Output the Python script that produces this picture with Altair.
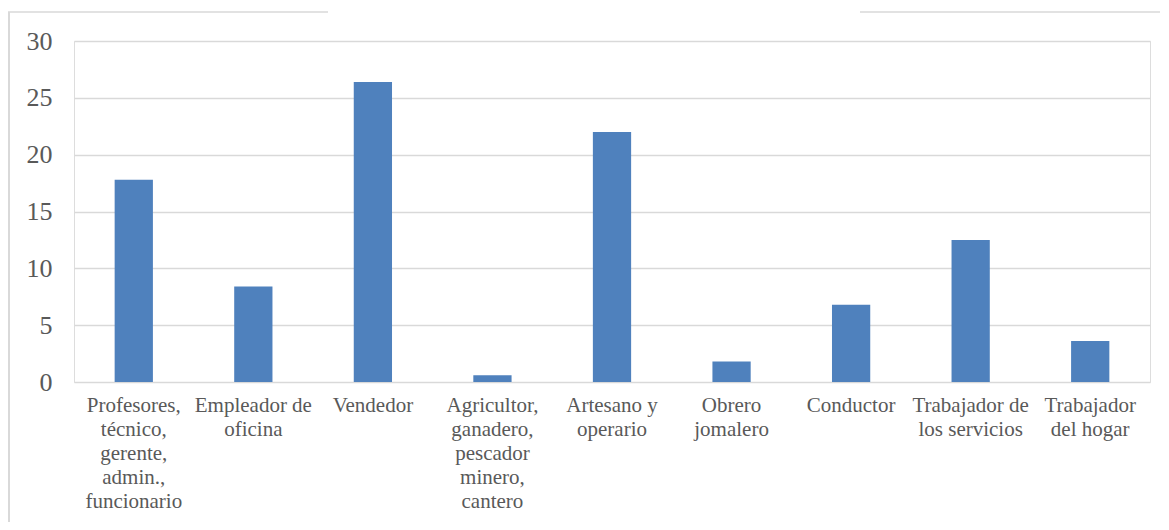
import altair as alt
import pandas as pd

categories = [
    "Profesores,\ntécnico,\ngerente,\nadmin.,\nfuncionario",
    "Empleador de\noficina",
    "Vendedor",
    "Agricultor,\nganadero,\npescador\nminero,\ncantero",
    "Artesano y\noperario",
    "Obrero\njomalero",
    "Conductor",
    "Trabajador de\nlos servicios",
    "Trabajador\ndel hogar",
]
values = [17.8, 8.4, 26.4, 0.6, 22.0, 1.8, 6.8, 12.5, 3.6]
y_ticks = [0, 5, 10, 15, 20, 25, 30]

df = pd.DataFrame({"cat": categories, "val": values})

W, H = 1076, 341
FONT = "Liberation Serif, Times New Roman, serif"
GRAY = "#595959"
LINE = "#d9d9d9"

bars = alt.Chart(df).mark_bar(color="#4f81bd").encode(
    x=alt.X(
        "cat:N",
        sort=categories,
        scale=alt.Scale(paddingInner=0.68, paddingOuter=0.34),
        axis=alt.Axis(
            title=None,
            labelAngle=0,
            labelExpr="split(datum.label, '\\n')",
            labelFont=FONT,
            labelFontSize=21,
            labelLineHeight=24,
            labelColor=GRAY,
            labelPadding=12,
            labelBaseline="top",
            ticks=False,
            domain=False,
            labelLimit=200,
        ),
    ),
    y=alt.Y(
        "val:Q",
        scale=alt.Scale(domain=[0, 30], nice=False),
        axis=alt.Axis(
            title=None,
            values=y_ticks,
            labelFont=FONT,
            labelFontSize=26,
            labelColor=GRAY,
            labelPadding=22,
            ticks=False,
            domain=False,
            grid=True,
            gridColor=LINE,
            gridWidth=1.4,
        ),
    ),
)

# outer chart frame (decoration)
hframe = pd.DataFrame({"x": [-67, 786], "x2": [254, 1095], "y": [-29, -29]})
vframe = pd.DataFrame({"x": [-65], "y": [-29], "y2": [489]})
hframe_layer = alt.Chart(hframe).mark_rule(color=LINE, strokeWidth=1.5).encode(
    x=alt.X("x:Q", scale=None),
    x2="x2:Q",
    y=alt.Y("y:Q", scale=None),
)
vframe_layer = alt.Chart(vframe).mark_rule(color=LINE, strokeWidth=2).encode(
    x=alt.X("x:Q", scale=None),
    y=alt.Y("y:Q", scale=None),
    y2="y2:Q",
)

chart = alt.layer(hframe_layer, vframe_layer, bars).properties(
    width=W,
    height=H,
    autosize=alt.AutoSizeParams(type="none"),
    padding={"left": 66, "top": 33, "right": 10, "bottom": 140},
).configure_view(stroke=None).configure(background="white")

chart.save("out.html", embed_options={"renderer": "svg", "actions": False})
